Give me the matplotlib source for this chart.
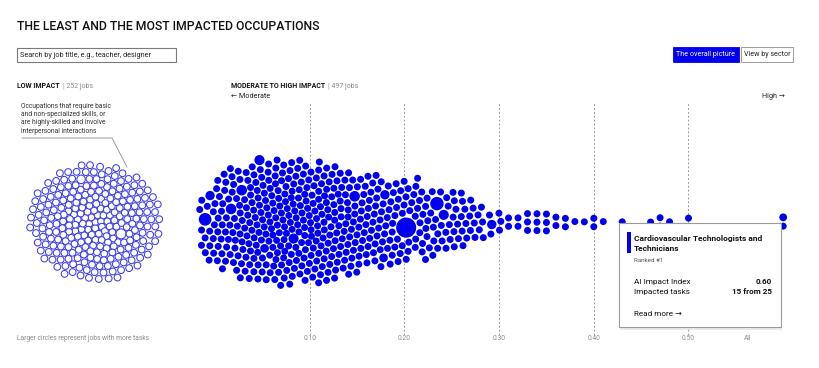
import numpy as np
import matplotlib
matplotlib.use("Agg")
import matplotlib.pyplot as plt
from matplotlib.patches import Rectangle
from matplotlib.lines import Line2D

# ---------------- data ----------------
# Moderate-to-high impact jobs: AI impact index value -> number of jobs
impact_values = [0.00, 0.01, 0.02, 0.03, 0.04, 0.05, 0.06, 0.07, 0.08, 0.09,
                 0.10, 0.11, 0.12, 0.13, 0.14, 0.15, 0.16, 0.17, 0.18, 0.19,
                 0.20, 0.21, 0.22, 0.23, 0.24, 0.25, 0.26, 0.27, 0.28, 0.29,
                 0.30, 0.31, 0.32, 0.33, 0.34, 0.35, 0.36, 0.37, 0.38, 0.39,
                 0.40, 0.41, 0.43, 0.46, 0.47, 0.48, 0.50, 0.60]
job_counts = [13, 16, 19, 21, 22, 23, 24, 24, 25, 25,
              24, 23, 21, 19, 17, 16, 15, 14, 14, 13,
              12, 11, 10, 9, 9, 8, 8, 7, 5, 3,
              3, 2, 2, 3, 3, 3, 2, 2, 1, 1,
              2, 1, 1, 1, 2, 1, 2, 2]
typical_tasks = 20
# jobs with notably many tasks (larger circles)
large_jobs_impact = [0.00, 0.00, 0.02, 0.03, 0.05, 0.05, 0.08, 0.14, 0.18, 0.18, 0.20, 0.23, 0.24, 0.29]
large_jobs_tasks = [66, 36, 46, 46, 42, 31, 42, 46, 36, 31, 165, 74, 42, 36]
cardio_tasks = 25

# Low impact jobs
low_impact_count = 252
low_large_tasks = [42, 31]

tick_values = [0.10, 0.20, 0.30, 0.40, 0.50]
tick_labels = ["0.10", "0.20", "0.30", "0.40", "0.50"]

BLUE = "#0000ee"
W, H = 820, 368

plt.rcParams["font.family"] = ["Roboto", "DejaVu Sans"]

fig = plt.figure(figsize=(W / 100, H / 100), dpi=100)
fig.patch.set_facecolor("white")


def fx(x):
    return x / W


def fy(y):
    return 1 - y / H


def radius(tasks):
    return 0.78 * np.sqrt(np.asarray(tasks, float))


def relax(tx, ty, R, x0, y0, kx, ky, iters):
    x = x0.astype(float).copy()
    y = y0.astype(float).copy()
    rr = R[:, None] + R[None, :]
    area = R ** 2
    w = area[None, :] / (area[:, None] + area[None, :])
    for it in range(iters):
        if it < iters - 25:
            x += (tx - x) * kx
            y += (ty - y) * ky
        for _ in range(2):
            dx = x[:, None] - x[None, :]
            dy = y[:, None] - y[None, :]
            d = np.hypot(dx, dy)
            np.fill_diagonal(d, np.inf)
            ov = np.clip(rr - d, 0, None)
            f = ov * w / np.maximum(d, 1e-6)
            x += 0.5 * (f * dx).sum(1)
            y += 0.5 * (f * dy).sum(1)
    return x, y


# ---------------- main swarm axes ----------------
ax = fig.add_axes([fx(190), fy(335), fx(800) - fx(190), (335 - 103) / H])
ax.set_xlim((190 - 215) / 947, (800 - 215) / 947)
ax.set_ylim(-113, 119)
ax.axis("off")
for v in tick_values:
    ax.axvline(v, color="#9a9a9a", lw=0.7, ls=(0, (2, 2)), zorder=1)
for v, lab in zip(tick_values, tick_labels):
    ax.text(v, -116, lab, ha="center", va="center", fontsize=4.8, color="#8a8a8a", clip_on=False)

# build job list
vals, tasks, gsize = [], [], []
large_left = list(zip(large_jobs_impact, large_jobs_tasks))
for v, c in zip(impact_values, job_counts):
    grp = [typical_tasks] * c
    bigs = [t for (lv, t) in large_left if abs(lv - v) < 1e-9]
    for i, t in enumerate(bigs):
        grp[(c // 2 + 3 * i) % c] = t
    if abs(v - 0.60) < 1e-9:
        grp[0] = cardio_tasks
    vals += [v] * c
    tasks += grp
    gsize += [c] * c
vals = np.array(vals)
gsize = np.array(gsize, float)
R = radius(tasks)

fig.canvas.draw()
T = ax.transData
tpix = T.transform(np.column_stack([vals, np.zeros_like(vals)]))
tx, ty = tpix[:, 0], tpix[:, 1]
# initial spread (layout only, low-discrepancy sequence)
nn = len(vals)
seq = (np.arange(nn) * 0.6180339887) % 1.0
x0 = tx + (seq - 0.5) * 6
y0 = ty + (((np.arange(nn) * 0.7548776662) % 1.0) - 0.5) * np.minimum(6 * gsize, 120)
xs, ys = relax(tx, ty, R + 0.72, x0, y0, 0.05, 0.006, 320)
data = T.inverted().transform(np.column_stack([xs, ys]))
ax.scatter(data[:, 0], data[:, 1], s=(2 * R * 0.72) ** 2, color=BLUE, linewidths=0, zorder=3)

# ---------------- low impact blob ----------------
ax2 = fig.add_axes([fx(10), fy(310), fx(180) - fx(10), (310 - 135) / H])
ax2.set_xlim(0, 170)
ax2.set_ylim(0, 175)
ax2.axis("off")
fig.canvas.draw()
T2 = ax2.transData
low_tasks = [typical_tasks] * low_impact_count
for i, t in enumerate(low_large_tasks):
    low_tasks[60 + 90 * i] = t
RL = radius(low_tasks)
c2 = T2.transform([[85, 310 - 222]])[0]
n = low_impact_count
k = np.arange(n)
ang = k * np.pi * (3 - np.sqrt(5))
rad = 4.7 * np.sqrt(k + 0.5)
lx0 = c2[0] + rad * np.cos(ang)
ly0 = c2[1] + rad * np.sin(ang)
lx, ly = relax(np.full(n, c2[0]), np.full(n, c2[1]), RL + 0.65, lx0, ly0, 0.010, 0.014, 200)
ld = T2.inverted().transform(np.column_stack([lx, ly]))
ax2.scatter(ld[:, 0], ld[:, 1], s=(2 * (RL - 0.1) * 0.72) ** 2, facecolors="white",
            edgecolors="#3c3ce6", linewidths=0.75, zorder=3)

# ---------------- texts ----------------
fig.text(fx(17), fy(27), "THE LEAST AND THE MOST IMPACTED OCCUPATIONS", fontsize=8.85,
         fontweight="medium", color="#111111", va="center")

# search box
fig.add_artist(Rectangle((fx(17), fy(62)), fx(176) - fx(17), (62 - 48) / H, transform=fig.transFigure,
                         facecolor="white", edgecolor="#7a7a7a", lw=0.8))
fig.text(fx(20.5), fy(55.5), "Search by job title, e.g., teacher, designer", fontsize=5.2,
         color="#222222", va="center")

# buttons
fig.add_artist(Rectangle((fx(673), fy(62)), fx(739) - fx(673), 15 / H, transform=fig.transFigure,
                         facecolor=BLUE, edgecolor=BLUE, lw=0.6))
fig.text(fx(706), fy(55), "The overall picture", fontsize=5.1, color="white", ha="center", va="center")
fig.add_artist(Rectangle((fx(741), fy(62)), fx(793) - fx(741), 15 / H, transform=fig.transFigure,
                         facecolor="white", edgecolor="#8a8a8a", lw=0.6))
fig.text(fx(767), fy(55), "View by sector", fontsize=5.1, color="#222222", ha="center", va="center")

# section headers
fig.text(fx(17), fy(86), "LOW IMPACT", fontsize=5.0, fontweight="bold", color="#111111", va="center")
fig.text(fx(63), fy(86), "| 252 jobs", fontsize=5.0, color="#8a8a8a", va="center")
fig.text(fx(231), fy(86), "MODERATE TO HIGH IMPACT", fontsize=5.0, fontweight="bold", color="#111111",
         va="center")
fig.text(fx(328), fy(86), "| 497 jobs", fontsize=5.0, color="#8a8a8a", va="center")
fig.text(fx(231), fy(96.5), "\u2190 Moderate", fontsize=5.2, color="#222222", va="center")
fig.text(fx(785), fy(96.5), "High \u2192", fontsize=5.2, color="#222222", va="center", ha="right")

# annotation
for i, line in enumerate(["Occupations that require basic", "and non-specialized skills, or",
                          "are highly-skilled and involve", "interpersonal interactions"]):
    fig.text(fx(21.5), fy(106.5 + 8.2 * i), line, fontsize=4.8, color="#333333", va="center")
fig.add_artist(Line2D([fx(22), fx(112), fx(127)], [fy(138), fy(138), fy(167)], transform=fig.transFigure,
                      color="#8a8a8a", lw=0.6))

fig.text(fx(17), fy(338.5), "Larger circles represent jobs with more tasks", fontsize=4.8, color="#8a8a8a",
         va="center")
fig.text(fx(748), fy(338.5), "All", fontsize=4.8, color="#8a8a8a", va="center", ha="center")

# ---------------- tooltip ----------------
fig.add_artist(Rectangle((fx(620.5), fy(329.5)), (781 - 619) / W, (327 - 223) / H, transform=fig.transFigure,
                         facecolor="#000000", alpha=0.08, edgecolor="none", zorder=9))
fig.add_artist(Rectangle((fx(619), fy(327)), (781 - 619) / W, (327 - 223) / H, transform=fig.transFigure,
                         facecolor="white", edgecolor="#9a9a9a", lw=0.8, zorder=10))
fig.add_artist(Rectangle((fx(627.5), fy(253)), 3.3 / W, 21 / H, transform=fig.transFigure,
                         facecolor=BLUE, edgecolor="none", zorder=11))
fig.text(fx(634), fy(238), "Cardiovascular Technologists and", fontsize=6.0, fontweight="semibold",
         color="#111111", va="center", zorder=11)
fig.text(fx(634), fy(248.5), "Technicians", fontsize=6.0, fontweight="semibold", color="#111111",
         va="center", zorder=11)
fig.text(fx(634), fy(260), "Ranked #1", fontsize=4.5, color="#555555", va="center", zorder=11)
fig.text(fx(634), fy(282), "AI Impact Index", fontsize=5.9, color="#111111", va="center", zorder=11)
fig.text(fx(772), fy(282), "0.60", fontsize=5.9, fontweight="bold", color="#111111", va="center",
         ha="right", zorder=11)
fig.text(fx(634), fy(292), "Impacted tasks", fontsize=5.9, color="#111111", va="center", zorder=11)
fig.text(fx(772), fy(292), "15 from 25", fontsize=5.9, fontweight="bold", color="#111111", va="center",
         ha="right", zorder=11)
fig.text(fx(634), fy(313.5), "Read more \u2192", fontsize=5.9, color="#111111", va="center", zorder=11)

fig.savefig("out.png", dpi=100, facecolor="white")
